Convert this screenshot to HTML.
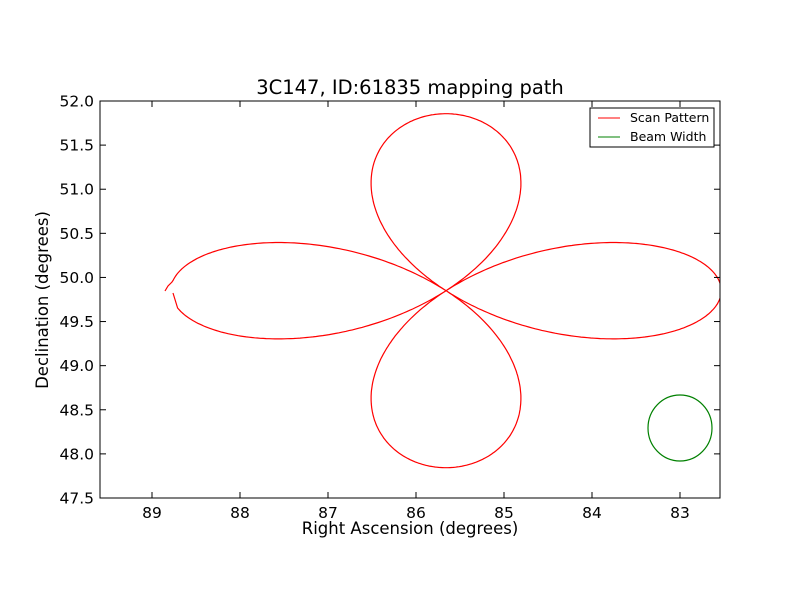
<!DOCTYPE html>
<html><head><meta charset="utf-8"><style>
html,body{margin:0;padding:0;background:#fff;}
svg{display:block;font-family:"DejaVu Sans","Liberation Sans",sans-serif;}
</style></head><body>
<svg id="s" width="800" height="600" xmlns="http://www.w3.org/2000/svg">
<rect width="800" height="600" fill="#fff"/>
<defs><clipPath id="c"><rect x="100" y="101" width="620" height="397"/></clipPath></defs>
<g clip-path="url(#c)">
<path id="p" fill="none" stroke="#ff0000" stroke-width="1.2"/>
<ellipse cx="680" cy="428" rx="32" ry="33" fill="none" stroke="#008000" stroke-width="1.2"/>
</g>
<rect x="100" y="101" width="620" height="397" fill="none" stroke="#000" stroke-width="1"/>
<g id="ticks" stroke="#000" stroke-width="1"></g>
<g id="lbl" font-size="15.5" fill="#000"></g>
<text x="410" y="94" font-size="19.5" text-anchor="middle">3C147, ID:61835 mapping path</text>
<text x="410" y="534" font-size="16.5" text-anchor="middle">Right Ascension (degrees)</text>
<text transform="translate(48,300) rotate(-90)" font-size="16.5" text-anchor="middle">Declination (degrees)</text>
<rect x="590" y="108" width="124" height="39" fill="#fff" stroke="#000"/>
<line x1="598" y1="118" x2="620" y2="118" stroke="#ff0000"/>
<line x1="598" y1="137" x2="620" y2="137" stroke="#008000"/>
<text x="630" y="122" font-size="12.5">Scan Pattern</text>
<text x="630" y="141" font-size="12.5">Beam Width</text>
</svg>
<script>
var cx=446,cy=290.7,R=177,k=1.555;
var pts=[[165,291],[168,286],[172,282]];
var n=900,a=Math.PI-0.06,b=-Math.PI+0.1;
for(var i=0;i<=n;i++){var t=a+(b-a)*i/n;
var r=R*Math.cos(2*t);pts.push([cx+k*r*Math.cos(t),cy-r*Math.sin(t)]);}
pts.push([173,293]);
var d="M"+pts.map(function(p){return p[0].toFixed(1)+" "+p[1].toFixed(1)}).join(" L");
document.getElementById("p").setAttribute("d",d);
var T=document.getElementById("ticks"),L=document.getElementById("lbl"),ns="http://www.w3.org/2000/svg";
function ln(a,b,c,e){var l=document.createElementNS(ns,"line");l.setAttribute("x1",a);l.setAttribute("y1",b);l.setAttribute("x2",c);l.setAttribute("y2",e);T.appendChild(l);}
function tx(x,y,s,an){var t=document.createElementNS(ns,"text");t.setAttribute("x",x);t.setAttribute("y",y);t.setAttribute("text-anchor",an);t.textContent=s;L.appendChild(t);}
for(var j=0;j<7;j++){var x=152+88*j;ln(x,498,x,492);ln(x,101,x,107);tx(x,518,String(89-j),"middle");}
for(var j=0;j<10;j++){var y=101+44.11*j;ln(100,y,106,y);ln(720,y,714,y);tx(94,y+5.5,(52-0.5*j).toFixed(1),"end");}
</script>
</body></html>
